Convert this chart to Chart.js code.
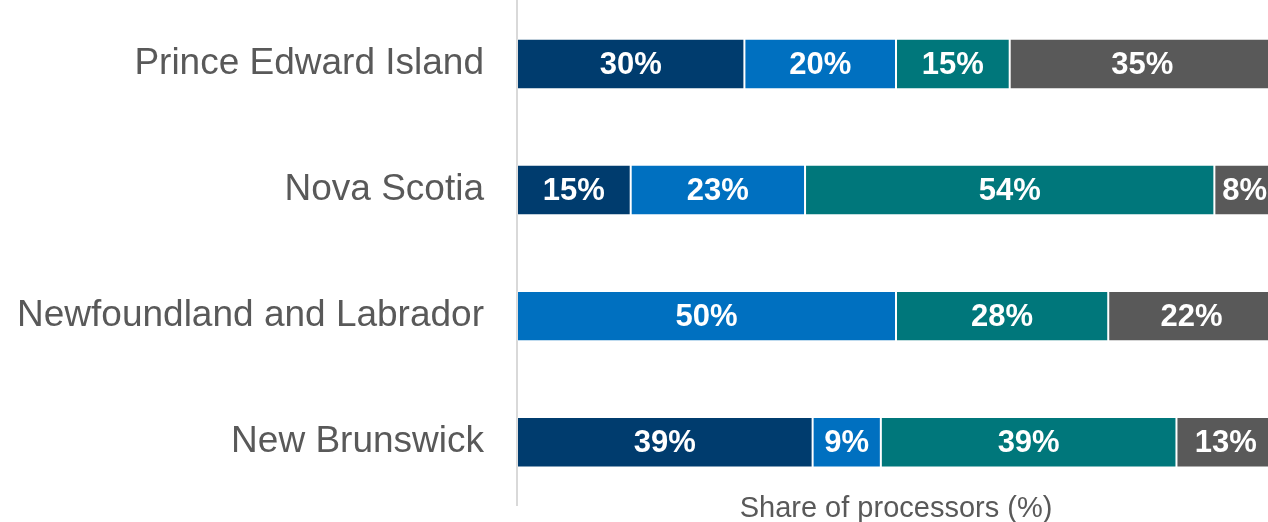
<!DOCTYPE html>
<html>
<head>
<meta charset="utf-8">
<script src="https://cdn.jsdelivr.net/npm/chart.js@4"></script>
<style>
  html, body { margin: 0; padding: 0; background: #fff; overflow: hidden; }
  #wrap { width: 1280px; height: 522px; position: relative; }
</style>
</head>
<body>
<div id="wrap"><canvas id="Chart1"></canvas></div>
<script>
var provinces = [
  "Prince Edward Island",
  "Nova Scotia",
  "Newfoundland and Labrador",
  "New Brunswick",
];

// share of processors per province, one array per group
var group1 = [30, 15, 0, 39];
var group2 = [20, 23, 50, 9];
var group3 = [15, 54, 28, 39];
var group4 = [35, 8, 22, 13];

var colors = ["#003C6E", "#0070C0", "#00777B", "#595959"];

// writes the percentage in the middle of every segment
var segmentLabels = {
  id: "segmentLabels",
  afterDatasetsDraw: function (chart) {
    var ctx = chart.ctx;
    ctx.save();
    ctx.fillStyle = "#ffffff";
    ctx.font = "bold 31px 'Liberation Sans', Arial, sans-serif";
    ctx.textAlign = "center";
    ctx.textBaseline = "middle";
    chart.data.datasets.forEach(function (ds, i) {
      var meta = chart.getDatasetMeta(i);
      meta.data.forEach(function (bar, j) {
        var v = ds.data[j];
        if (!v) return;
        ctx.fillText(v + "%", (bar.x + bar.base) / 2, bar.y + 1);
      });
    });
    ctx.restore();
  },
};

var data = {
  labels: provinces,
  datasets: [group1, group2, group3, group4].map(function (vals, i) {
    return {
      data: vals,
      backgroundColor: colors[i],
      borderColor: "rgba(255,255,255,0.18)",
      borderWidth: 1,
      borderSkipped: false,
      barPercentage: 0.4,
      categoryPercentage: 1,
    };
  }),
};

var options = {
  indexAxis: "y",
  responsive: true,
  maintainAspectRatio: false,
  animation: false,
  layout: { padding: { top: 1, right: 5, left: 0, bottom: 0 } },
  plugins: {
    legend: { display: false },
    tooltip: { enabled: false },
  },
  scales: {
    x: {
      stacked: true,
      min: 0,
      max: 100,
      ticks: { display: false },
      grid: { display: false, drawTicks: false },
      border: { display: false },
      title: {
        display: true,
        text: "Share of processors (%)",
        color: "#595959",
        font: { family: "'Liberation Sans', Arial, sans-serif", size: 29 },
        padding: { top: -14, bottom: -4 },
      },
    },
    y: {
      stacked: true,
      afterFit: function (scale) {
        scale.width = 517;
      },
      ticks: {
        color: "#595959",
        padding: 0,
        font: {
          family: "'Liberation Sans', Arial, sans-serif",
          size: 37,
          lineHeight: 0.05,
        },
      },
      grid: { display: false, drawTicks: true, tickLength: 33 },
      border: { display: true, color: "#D9D9D9", width: 2 },
    },
  },
};

var ctx = document.getElementById("Chart1").getContext("2d");
var myChart = new Chart(ctx, {
  type: "bar",
  data: data,
  options: options,
  plugins: [segmentLabels],
});
</script>
</body>
</html>
